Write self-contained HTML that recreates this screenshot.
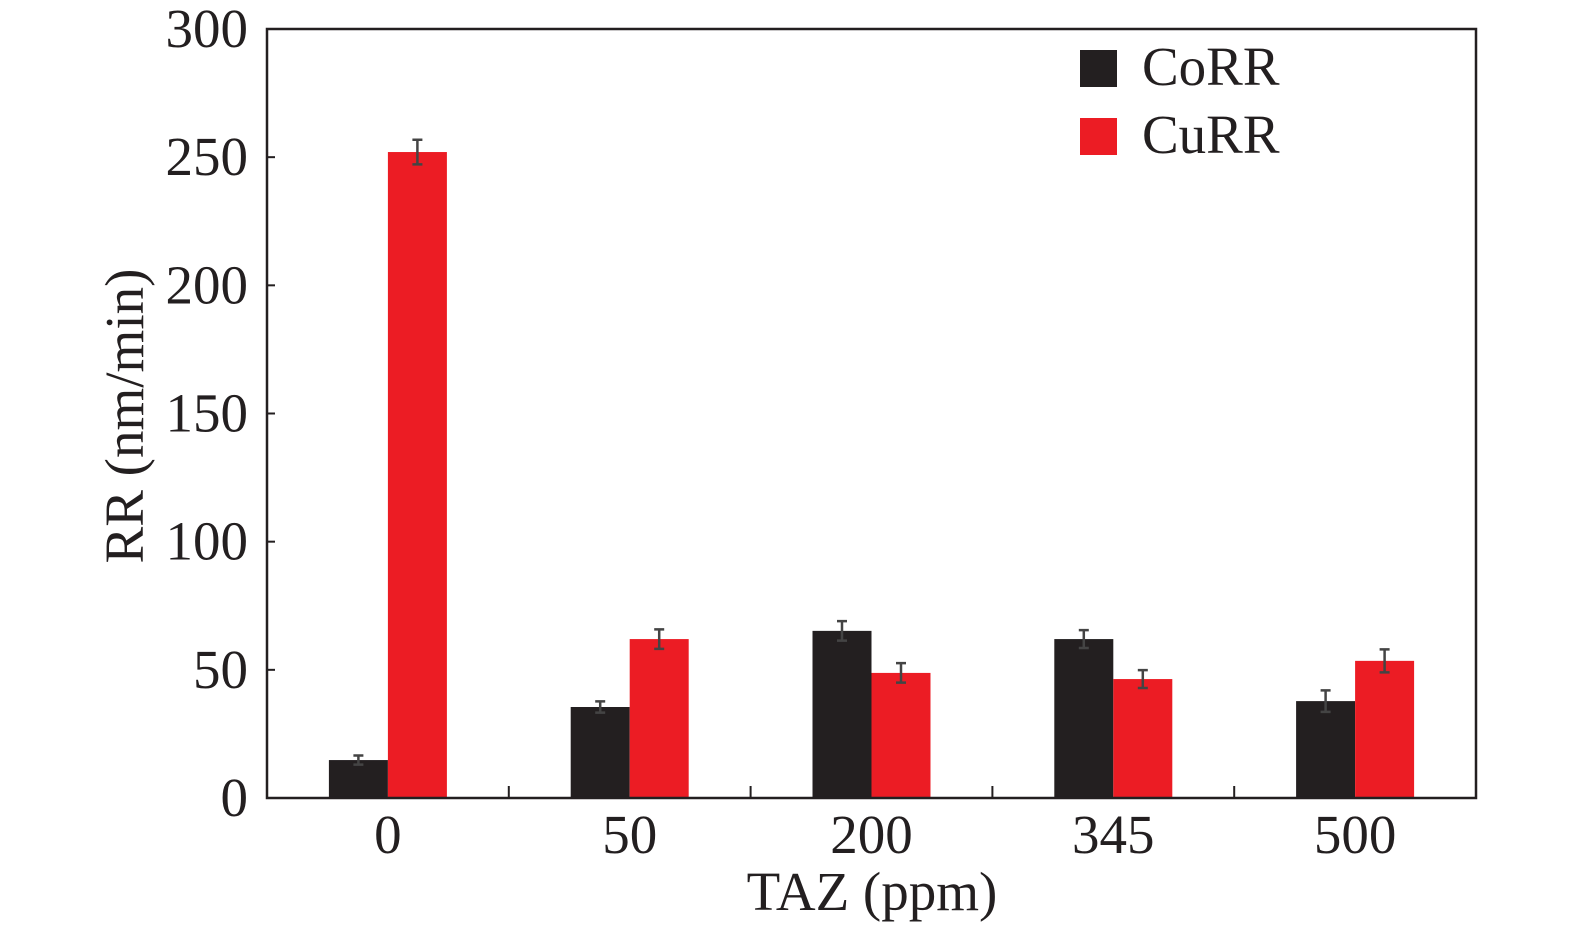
<!DOCTYPE html>
<html><head><meta charset="utf-8"><style>
body{margin:0;background:#fff}
svg text{font-family:"Liberation Serif",serif;fill:#231f20}
</style></head><body>
<svg id="chart" width="1575" height="930" xmlns="http://www.w3.org/2000/svg">
<g id="bars"></g>
<g id="axes"></g>
<text x="872" y="910" font-size="55" text-anchor="middle">TAZ (ppm)</text>
<text transform="translate(143,416) rotate(-90)" font-size="55" text-anchor="middle">RR (nm/min)</text>
<g>
<rect x="1080" y="50" width="37" height="37" fill="#231f20"/>
<text x="1142" y="85" font-size="55">CoRR</text>
<rect x="1080" y="118" width="37" height="37" fill="#ec1c24"/>
<text x="1142" y="153" font-size="55">CuRR</text>
</g>
</svg>
<script>
const categories=["0","50","200","345","500"];
const coRR=[14.8,35.5,65.2,62,37.8];
const coErr=[1.8,2.2,3.8,3.5,4.2];
const cuRR=[252,62,48.8,46.4,53.5];
const cuErr=[4.8,3.8,3.8,3.5,4.5];
const yTicks=[0,50,100,150,200,250,300];
const L=267,R=1476,T=29,B=798,yMax=300;
const NS="http://www.w3.org/2000/svg";
const y=v=>B-(v/yMax)*(B-T);
const gw=(R-L)/categories.length;
const xc=i=>L+gw*(i+0.5);
const bw=59;
function mk(tag,attrs,parent){const e=document.createElementNS(NS,tag);for(const k in attrs)e.setAttribute(k,attrs[k]);parent.appendChild(e);return e;}
const bars=document.getElementById('bars'),axes=document.getElementById('axes');
function series(vals,errs,off,color,name){
vals.forEach((v,i)=>{
const x0=xc(i)+off;
const r=mk('rect',{x:x0,y:y(v),width:bw,height:B-y(v),fill:color},bars);


const cx=x0+bw/2,e=errs[i];
const p=mk('path',{d:`M${cx},${y(v+e)}V${y(v-e)}M${cx-5},${y(v+e)}H${cx+5}M${cx-5},${y(v-e)}H${cx+5}`,stroke:'#444',"stroke-width":2.5,fill:'none'},bars);


});}
series(coRR,coErr,-bw,'#231f20','corr');
series(cuRR,cuErr,0,'#ec1c24','curr');
const frame=mk('rect',{x:L,y:T,width:R-L,height:B-T,fill:'none',stroke:'#231f20','stroke-width':2.5},axes);


yTicks.forEach(t=>{
const tk=mk('line',{x1:L,x2:L+8,y1:y(t),y2:y(t),stroke:'#231f20','stroke-width':2},axes);


const tx=mk('text',{x:248,y:y(t)+18,'font-size':55,'text-anchor':'end'},axes);
tx.textContent=t;


});
categories.forEach((c,i)=>{
if(i>0){const tk=mk('line',{x1:L+gw*i,x2:L+gw*i,y1:B,y2:B-12,stroke:'#231f20','stroke-width':2},axes);

}
const tx=mk('text',{x:xc(i),y:853,'font-size':55,'text-anchor':'middle'},axes);
tx.textContent=c;


});
</script>
</body></html>
